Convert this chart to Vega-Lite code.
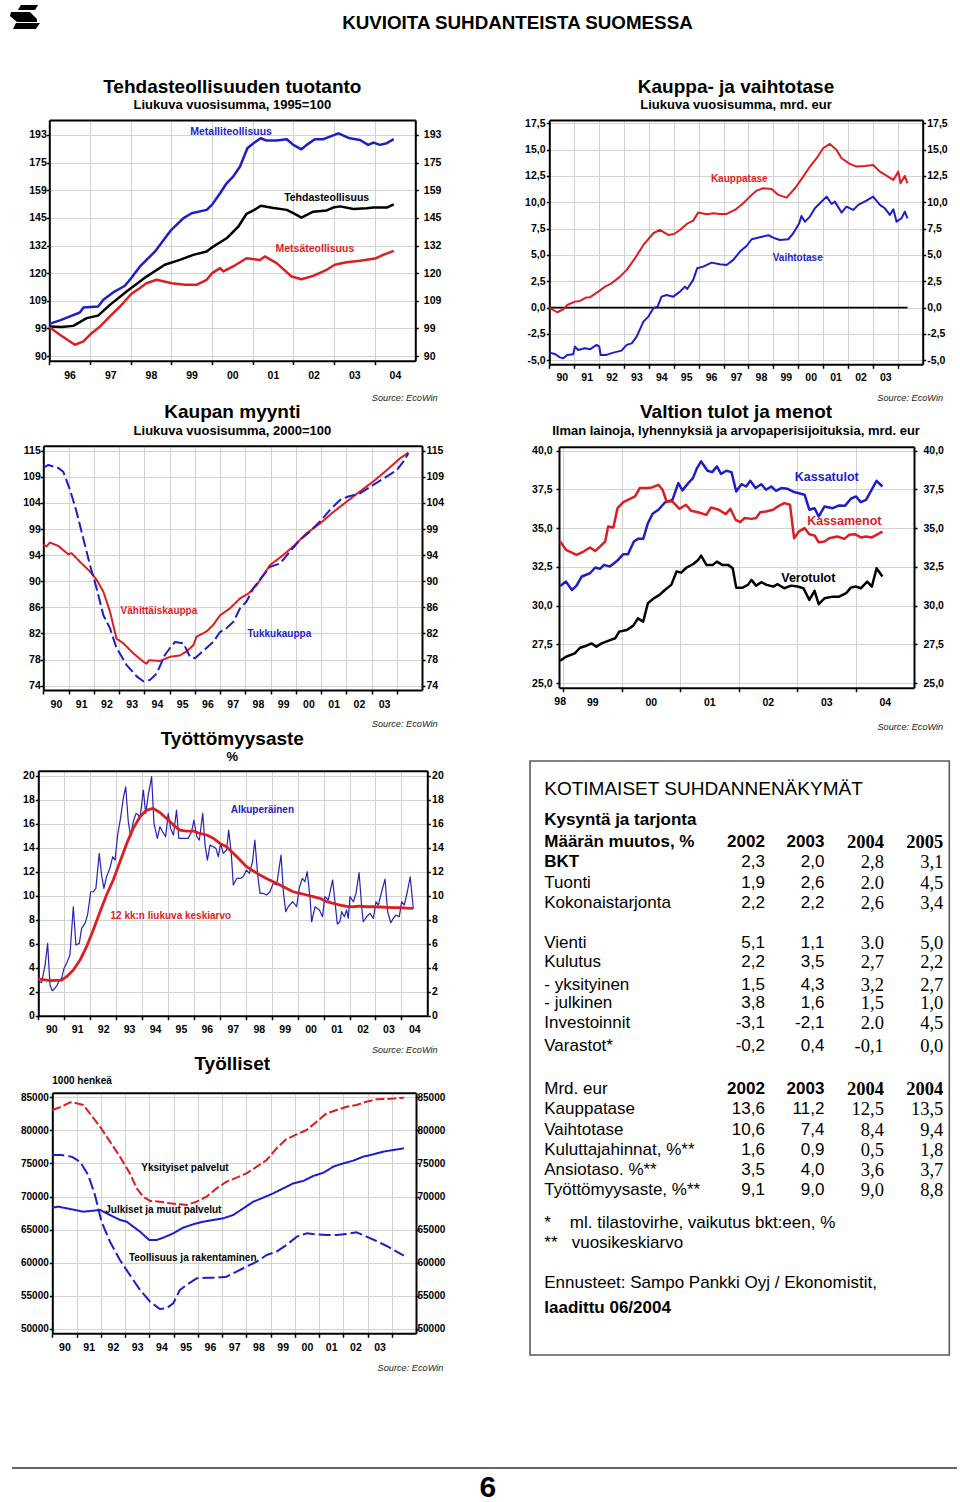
{
"$schema":"https://vega.github.io/schema/vega-lite/v6.json",
"width":960,"height":1502,"autosize":{"type":"none"},"padding":0,"background":"white",
"data":{"values":[{}]},
"config":{"view":{"stroke":null},"font":"Liberation Sans",
"axis":{"labelFont":"Liberation Sans","labelFontSize":10.5,"labelFontWeight":"bold","labelColor":"#000","domainColor":"#000","domainWidth":2,"tickColor":"#000","tickWidth":1.5,"gridColor":"#d2d2d2","gridWidth":1,"gridOpacity":1},
"text":{"font":"Liberation Sans"},"line":{"strokeJoin":"round"}},
"datasets":{
"p1":[
{"s":"metal","t":1996.0,"v":100.6},{"s":"metal","t":1996.26,"v":101.8},{"s":"metal","t":1996.51,"v":103.2},{"s":"metal","t":1996.75,"v":104.6},{"s":"metal","t":1996.84,"v":106.4},{"s":"metal","t":1997.2,"v":106.8},{"s":"metal","t":1997.33,"v":109.3},{"s":"metal","t":1997.57,"v":112.1},{"s":"metal","t":1997.86,"v":114.7},{"s":"metal","t":1998.01,"v":117.7},{"s":"metal","t":1998.23,"v":122.6},{"s":"metal","t":1998.6,"v":129.1},{"s":"metal","t":1999.0,"v":139.1},{"s":"metal","t":1999.3,"v":144.8},{"s":"metal","t":1999.5,"v":147.3},{"s":"metal","t":1999.87,"v":149.0},{"s":"metal","t":2000.0,"v":151.6},{"s":"metal","t":2000.2,"v":157.8},{"s":"metal","t":2000.36,"v":163.3},{"s":"metal","t":2000.52,"v":167.1},{"s":"metal","t":2000.69,"v":173.0},{"s":"metal","t":2000.87,"v":184.3},{"s":"metal","t":2001.02,"v":187.5},{"s":"metal","t":2001.2,"v":190.7},{"s":"metal","t":2001.34,"v":189.2},{"s":"metal","t":2001.59,"v":189.2},{"s":"metal","t":2001.84,"v":190.1},{"s":"metal","t":2002.0,"v":186.4},{"s":"metal","t":2002.2,"v":183.6},{"s":"metal","t":2002.33,"v":186.4},{"s":"metal","t":2002.53,"v":190.1},{"s":"metal","t":2002.74,"v":190.1},{"s":"metal","t":2003.11,"v":194.0},{"s":"metal","t":2003.39,"v":190.7},{"s":"metal","t":2003.64,"v":189.6},{"s":"metal","t":2003.84,"v":186.4},{"s":"metal","t":2003.97,"v":187.9},{"s":"metal","t":2004.13,"v":186.4},{"s":"metal","t":2004.3,"v":187.5},{"s":"metal","t":2004.47,"v":190.1},
{"s":"tehdas","t":1996.0,"v":99.7},{"s":"tehdas","t":1996.3,"v":99.5},{"s":"tehdas","t":1996.59,"v":99.9},{"s":"tehdas","t":1996.92,"v":102.6},{"s":"tehdas","t":1997.2,"v":103.5},{"s":"tehdas","t":1997.49,"v":107.4},{"s":"tehdas","t":1997.9,"v":112.5},{"s":"tehdas","t":1998.39,"v":118.4},{"s":"tehdas","t":1998.84,"v":123.3},{"s":"tehdas","t":1999.21,"v":125.4},{"s":"tehdas","t":1999.54,"v":127.6},{"s":"tehdas","t":1999.87,"v":129.1},{"s":"tehdas","t":2000.03,"v":131.3},{"s":"tehdas","t":2000.36,"v":135.1},{"s":"tehdas","t":2000.65,"v":140.7},{"s":"tehdas","t":2000.85,"v":147.0},{"s":"tehdas","t":2001.02,"v":148.7},{"s":"tehdas","t":2001.2,"v":151.1},{"s":"tehdas","t":2001.51,"v":150.0},{"s":"tehdas","t":2001.84,"v":149.0},{"s":"tehdas","t":2002.0,"v":147.3},{"s":"tehdas","t":2002.2,"v":145.1},{"s":"tehdas","t":2002.49,"v":148.1},{"s":"tehdas","t":2002.82,"v":148.7},{"s":"tehdas","t":2002.98,"v":150.2},{"s":"tehdas","t":2003.15,"v":150.8},{"s":"tehdas","t":2003.48,"v":149.5},{"s":"tehdas","t":2003.8,"v":149.8},{"s":"tehdas","t":2003.97,"v":150.2},{"s":"tehdas","t":2004.3,"v":150.2},{"s":"tehdas","t":2004.47,"v":151.9},
{"s":"metsa","t":1996.0,"v":99.5},{"s":"metsa","t":1996.26,"v":96.9},{"s":"metsa","t":1996.63,"v":93.6},{"s":"metsa","t":1996.84,"v":94.7},{"s":"metsa","t":1997.04,"v":97.4},{"s":"metsa","t":1997.25,"v":99.7},{"s":"metsa","t":1997.49,"v":103.2},{"s":"metsa","t":1997.74,"v":106.8},{"s":"metsa","t":1998.02,"v":111.6},{"s":"metsa","t":1998.23,"v":113.8},{"s":"metsa","t":1998.39,"v":115.7},{"s":"metsa","t":1998.64,"v":117.1},{"s":"metsa","t":1999.01,"v":115.7},{"s":"metsa","t":1999.34,"v":115.1},{"s":"metsa","t":1999.62,"v":115.1},{"s":"metsa","t":1999.87,"v":117.1},{"s":"metsa","t":2000.0,"v":119.8},{"s":"metsa","t":2000.2,"v":121.9},{"s":"metsa","t":2000.28,"v":120.5},{"s":"metsa","t":2000.52,"v":122.6},{"s":"metsa","t":2000.85,"v":126.1},{"s":"metsa","t":2001.18,"v":125.4},{"s":"metsa","t":2001.3,"v":126.9},{"s":"metsa","t":2001.59,"v":124.0},{"s":"metsa","t":2001.96,"v":118.4},{"s":"metsa","t":2002.2,"v":117.3},{"s":"metsa","t":2002.49,"v":118.7},{"s":"metsa","t":2002.82,"v":121.2},{"s":"metsa","t":2003.02,"v":123.3},{"s":"metsa","t":2003.31,"v":124.4},{"s":"metsa","t":2003.64,"v":125.0},{"s":"metsa","t":2004.01,"v":126.0},{"s":"metsa","t":2004.21,"v":127.6},{"s":"metsa","t":2004.47,"v":129.4}
],
"p2":[
{"s":"kauppa","t":1990.0,"v":0.0},{"s":"kauppa","t":1990.32,"v":-0.44},{"s":"kauppa","t":1990.56,"v":-0.16},{"s":"kauppa","t":1990.72,"v":0.25},{"s":"kauppa","t":1991.03,"v":0.57},{"s":"kauppa","t":1991.23,"v":0.63},{"s":"kauppa","t":1991.47,"v":0.95},{"s":"kauppa","t":1991.63,"v":0.98},{"s":"kauppa","t":1991.97,"v":1.52},{"s":"kauppa","t":1992.24,"v":1.99},{"s":"kauppa","t":1992.5,"v":2.31},{"s":"kauppa","t":1992.84,"v":2.94},{"s":"kauppa","t":1993.11,"v":3.58},{"s":"kauppa","t":1993.44,"v":4.68},{"s":"kauppa","t":1993.78,"v":5.95},{"s":"kauppa","t":1994.18,"v":7.06},{"s":"kauppa","t":1994.44,"v":7.37},{"s":"kauppa","t":1994.78,"v":6.9},{"s":"kauppa","t":1995.01,"v":6.99},{"s":"kauppa","t":1995.25,"v":7.37},{"s":"kauppa","t":1995.52,"v":7.94},{"s":"kauppa","t":1995.78,"v":8.26},{"s":"kauppa","t":1995.98,"v":9.02},{"s":"kauppa","t":1996.32,"v":8.86},{"s":"kauppa","t":1996.59,"v":8.96},{"s":"kauppa","t":1996.85,"v":8.89},{"s":"kauppa","t":1997.12,"v":8.89},{"s":"kauppa","t":1997.46,"v":9.27},{"s":"kauppa","t":1997.79,"v":9.91},{"s":"kauppa","t":1998.06,"v":10.54},{"s":"kauppa","t":1998.33,"v":11.11},{"s":"kauppa","t":1998.59,"v":11.33},{"s":"kauppa","t":1998.93,"v":11.27},{"s":"kauppa","t":1999.2,"v":10.7},{"s":"kauppa","t":1999.53,"v":10.44},{"s":"kauppa","t":1999.87,"v":11.33},{"s":"kauppa","t":2000.2,"v":12.44},{"s":"kauppa","t":2000.47,"v":13.39},{"s":"kauppa","t":2000.74,"v":14.18},{"s":"kauppa","t":2001.0,"v":15.13},{"s":"kauppa","t":2001.27,"v":15.54},{"s":"kauppa","t":2001.54,"v":14.97},{"s":"kauppa","t":2001.74,"v":14.18},{"s":"kauppa","t":2002.07,"v":13.64},{"s":"kauppa","t":2002.34,"v":13.39},{"s":"kauppa","t":2002.68,"v":13.45},{"s":"kauppa","t":2003.01,"v":13.54},{"s":"kauppa","t":2003.28,"v":12.91},{"s":"kauppa","t":2003.61,"v":12.44},{"s":"kauppa","t":2003.82,"v":12.12},{"s":"kauppa","t":2004.02,"v":12.91},{"s":"kauppa","t":2004.11,"v":11.8},{"s":"kauppa","t":2004.28,"v":12.5},{"s":"kauppa","t":2004.39,"v":11.8},
{"s":"vaihto","t":1990.0,"v":-4.27},{"s":"vaihto","t":1990.23,"v":-4.4},{"s":"vaihto","t":1990.43,"v":-4.72},{"s":"vaihto","t":1990.56,"v":-4.81},{"s":"vaihto","t":1990.72,"v":-4.49},{"s":"vaihto","t":1990.96,"v":-4.43},{"s":"vaihto","t":1991.03,"v":-3.7},{"s":"vaihto","t":1991.16,"v":-4.02},{"s":"vaihto","t":1991.43,"v":-3.86},{"s":"vaihto","t":1991.63,"v":-3.96},{"s":"vaihto","t":1991.9,"v":-3.54},{"s":"vaihto","t":1992.01,"v":-3.7},{"s":"vaihto","t":1992.06,"v":-4.49},{"s":"vaihto","t":1992.3,"v":-4.49},{"s":"vaihto","t":1992.57,"v":-4.27},{"s":"vaihto","t":1992.9,"v":-4.08},{"s":"vaihto","t":1993.11,"v":-3.54},{"s":"vaihto","t":1993.31,"v":-3.39},{"s":"vaihto","t":1993.51,"v":-2.75},{"s":"vaihto","t":1993.78,"v":-1.33},{"s":"vaihto","t":1993.98,"v":-0.85},{"s":"vaihto","t":1994.18,"v":-0.06},{"s":"vaihto","t":1994.35,"v":0.09},{"s":"vaihto","t":1994.51,"v":1.04},{"s":"vaihto","t":1994.71,"v":1.2},{"s":"vaihto","t":1994.98,"v":1.04},{"s":"vaihto","t":1995.25,"v":1.52},{"s":"vaihto","t":1995.45,"v":1.99},{"s":"vaihto","t":1995.54,"v":1.77},{"s":"vaihto","t":1995.78,"v":2.63},{"s":"vaihto","t":1995.94,"v":3.73},{"s":"vaihto","t":1996.18,"v":3.89},{"s":"vaihto","t":1996.52,"v":4.27},{"s":"vaihto","t":1996.85,"v":4.11},{"s":"vaihto","t":1997.12,"v":4.05},{"s":"vaihto","t":1997.39,"v":4.53},{"s":"vaihto","t":1997.66,"v":5.32},{"s":"vaihto","t":1997.92,"v":5.85},{"s":"vaihto","t":1998.13,"v":6.49},{"s":"vaihto","t":1998.46,"v":6.68},{"s":"vaihto","t":1998.8,"v":6.87},{"s":"vaihto","t":1999.06,"v":6.58},{"s":"vaihto","t":1999.26,"v":6.42},{"s":"vaihto","t":1999.6,"v":6.49},{"s":"vaihto","t":1999.8,"v":7.06},{"s":"vaihto","t":2000.04,"v":8.01},{"s":"vaihto","t":2000.13,"v":8.7},{"s":"vaihto","t":2000.27,"v":8.16},{"s":"vaihto","t":2000.47,"v":8.64},{"s":"vaihto","t":2000.67,"v":9.43},{"s":"vaihto","t":2000.87,"v":9.91},{"s":"vaihto","t":2001.14,"v":10.54},{"s":"vaihto","t":2001.34,"v":9.84},{"s":"vaihto","t":2001.47,"v":10.06},{"s":"vaihto","t":2001.74,"v":9.02},{"s":"vaihto","t":2001.94,"v":9.59},{"s":"vaihto","t":2002.21,"v":9.27},{"s":"vaihto","t":2002.41,"v":9.75},{"s":"vaihto","t":2002.74,"v":10.16},{"s":"vaihto","t":2003.01,"v":10.54},{"s":"vaihto","t":2003.28,"v":9.75},{"s":"vaihto","t":2003.48,"v":9.43},{"s":"vaihto","t":2003.68,"v":8.8},{"s":"vaihto","t":2003.82,"v":9.34},{"s":"vaihto","t":2003.95,"v":8.16},{"s":"vaihto","t":2004.15,"v":8.48},{"s":"vaihto","t":2004.28,"v":9.11},{"s":"vaihto","t":2004.39,"v":8.48}
],
"p3":[
{"s":"vahitt","t":1990.0,"v":96.3},{"s":"vahitt","t":1990.13,"v":96.0},{"s":"vahitt","t":1990.26,"v":96.7},{"s":"vahitt","t":1990.59,"v":96.1},{"s":"vahitt","t":1990.99,"v":94.6},{"s":"vahitt","t":1991.12,"v":94.8},{"s":"vahitt","t":1991.45,"v":93.3},{"s":"vahitt","t":1991.85,"v":91.6},{"s":"vahitt","t":1992.11,"v":90.2},{"s":"vahitt","t":1992.38,"v":88.2},{"s":"vahitt","t":1992.64,"v":85.0},{"s":"vahitt","t":1992.9,"v":80.8},{"s":"vahitt","t":1993.17,"v":80.1},{"s":"vahitt","t":1993.57,"v":78.6},{"s":"vahitt","t":1993.96,"v":77.4},{"s":"vahitt","t":1994.09,"v":77.1},{"s":"vahitt","t":1994.19,"v":77.6},{"s":"vahitt","t":1994.62,"v":77.5},{"s":"vahitt","t":1995.02,"v":78.1},{"s":"vahitt","t":1995.41,"v":78.3},{"s":"vahitt","t":1995.68,"v":78.9},{"s":"vahitt","t":1995.94,"v":79.8},{"s":"vahitt","t":1996.07,"v":81.1},{"s":"vahitt","t":1996.47,"v":81.9},{"s":"vahitt","t":1996.73,"v":82.9},{"s":"vahitt","t":1997.0,"v":84.4},{"s":"vahitt","t":1997.39,"v":85.5},{"s":"vahitt","t":1997.79,"v":87.1},{"s":"vahitt","t":1998.12,"v":87.9},{"s":"vahitt","t":1998.45,"v":89.3},{"s":"vahitt","t":1998.98,"v":92.7},{"s":"vahitt","t":1999.51,"v":94.5},{"s":"vahitt","t":1999.9,"v":96.0},{"s":"vahitt","t":2000.43,"v":98.4},{"s":"vahitt","t":2000.96,"v":100.2},{"s":"vahitt","t":2001.49,"v":102.4},{"s":"vahitt","t":2002.02,"v":104.4},{"s":"vahitt","t":2002.54,"v":106.4},{"s":"vahitt","t":2003.07,"v":108.4},{"s":"vahitt","t":2003.6,"v":110.7},{"s":"vahitt","t":2004.13,"v":113.2},{"s":"vahitt","t":2004.46,"v":114.4},
{"s":"tukku","t":1990.0,"v":111.2},{"s":"tukku","t":1990.2,"v":111.8},{"s":"tukku","t":1990.59,"v":111.2},{"s":"tukku","t":1990.79,"v":110.4},{"s":"tukku","t":1991.06,"v":106.7},{"s":"tukku","t":1991.32,"v":102.4},{"s":"tukku","t":1991.58,"v":97.5},{"s":"tukku","t":1991.85,"v":92.7},{"s":"tukku","t":1992.11,"v":88.8},{"s":"tukku","t":1992.38,"v":84.4},{"s":"tukku","t":1992.64,"v":82.4},{"s":"tukku","t":1992.9,"v":79.4},{"s":"tukku","t":1993.3,"v":76.9},{"s":"tukku","t":1993.7,"v":75.3},{"s":"tukku","t":1993.96,"v":74.6},{"s":"tukku","t":1994.23,"v":74.8},{"s":"tukku","t":1994.49,"v":75.7},{"s":"tukku","t":1994.82,"v":78.4},{"s":"tukku","t":1995.02,"v":79.4},{"s":"tukku","t":1995.22,"v":80.3},{"s":"tukku","t":1995.55,"v":80.1},{"s":"tukku","t":1995.81,"v":78.1},{"s":"tukku","t":1996.01,"v":77.9},{"s":"tukku","t":1996.34,"v":79.0},{"s":"tukku","t":1996.73,"v":80.3},{"s":"tukku","t":1997.0,"v":81.8},{"s":"tukku","t":1997.26,"v":82.4},{"s":"tukku","t":1997.53,"v":83.4},{"s":"tukku","t":1997.79,"v":85.5},{"s":"tukku","t":1998.05,"v":86.6},{"s":"tukku","t":1998.32,"v":88.8},{"s":"tukku","t":1998.72,"v":91.0},{"s":"tukku","t":1998.98,"v":92.4},{"s":"tukku","t":1999.38,"v":93.0},{"s":"tukku","t":1999.77,"v":95.1},{"s":"tukku","t":2000.17,"v":97.2},{"s":"tukku","t":2000.56,"v":98.7},{"s":"tukku","t":2000.96,"v":100.6},{"s":"tukku","t":2001.36,"v":102.8},{"s":"tukku","t":2001.75,"v":104.7},{"s":"tukku","t":2002.08,"v":105.4},{"s":"tukku","t":2002.54,"v":106.0},{"s":"tukku","t":2003.07,"v":107.7},{"s":"tukku","t":2003.6,"v":109.4},{"s":"tukku","t":2004.0,"v":110.7},{"s":"tukku","t":2004.26,"v":112.5},{"s":"tukku","t":2004.46,"v":114.3}
],
"p4":[
{"s":"tulot","t":1998.95,"v":31.27},{"s":"tulot","t":1999.05,"v":31.55},{"s":"tulot","t":1999.15,"v":31.01},{"s":"tulot","t":1999.23,"v":31.29},{"s":"tulot","t":1999.32,"v":31.88},{"s":"tulot","t":1999.46,"v":32.09},{"s":"tulot","t":1999.55,"v":32.46},{"s":"tulot","t":1999.63,"v":32.37},{"s":"tulot","t":1999.7,"v":32.63},{"s":"tulot","t":1999.8,"v":32.52},{"s":"tulot","t":1999.94,"v":32.95},{"s":"tulot","t":2000.03,"v":33.32},{"s":"tulot","t":2000.11,"v":33.32},{"s":"tulot","t":2000.21,"v":34.14},{"s":"tulot","t":2000.28,"v":34.31},{"s":"tulot","t":2000.37,"v":34.31},{"s":"tulot","t":2000.45,"v":35.32},{"s":"tulot","t":2000.53,"v":35.93},{"s":"tulot","t":2000.63,"v":36.19},{"s":"tulot","t":2000.74,"v":36.66},{"s":"tulot","t":2000.87,"v":36.83},{"s":"tulot","t":2000.97,"v":37.91},{"s":"tulot","t":2001.04,"v":37.44},{"s":"tulot","t":2001.14,"v":37.91},{"s":"tulot","t":2001.22,"v":38.23},{"s":"tulot","t":2001.29,"v":38.88},{"s":"tulot","t":2001.36,"v":39.31},{"s":"tulot","t":2001.47,"v":38.71},{"s":"tulot","t":2001.55,"v":38.62},{"s":"tulot","t":2001.63,"v":38.99},{"s":"tulot","t":2001.7,"v":38.51},{"s":"tulot","t":2001.79,"v":38.71},{"s":"tulot","t":2001.88,"v":38.62},{"s":"tulot","t":2001.96,"v":37.37},{"s":"tulot","t":2002.05,"v":37.84},{"s":"tulot","t":2002.13,"v":37.69},{"s":"tulot","t":2002.2,"v":38.06},{"s":"tulot","t":2002.29,"v":37.59},{"s":"tulot","t":2002.39,"v":37.84},{"s":"tulot","t":2002.47,"v":37.48},{"s":"tulot","t":2002.56,"v":37.69},{"s":"tulot","t":2002.64,"v":37.41},{"s":"tulot","t":2002.73,"v":37.59},{"s":"tulot","t":2002.84,"v":37.54},{"s":"tulot","t":2002.95,"v":37.33},{"s":"tulot","t":2003.13,"v":37.16},{"s":"tulot","t":2003.21,"v":36.19},{"s":"tulot","t":2003.3,"v":36.29},{"s":"tulot","t":2003.37,"v":35.75},{"s":"tulot","t":2003.47,"v":36.4},{"s":"tulot","t":2003.61,"v":36.29},{"s":"tulot","t":2003.72,"v":36.47},{"s":"tulot","t":2003.82,"v":36.44},{"s":"tulot","t":2003.92,"v":36.9},{"s":"tulot","t":2004.01,"v":37.05},{"s":"tulot","t":2004.09,"v":36.68},{"s":"tulot","t":2004.18,"v":36.83},{"s":"tulot","t":2004.26,"v":37.37},{"s":"tulot","t":2004.36,"v":38.06},{"s":"tulot","t":2004.46,"v":37.69},
{"s":"menot","t":1998.95,"v":34.14},{"s":"menot","t":1999.05,"v":33.6},{"s":"menot","t":1999.23,"v":33.28},{"s":"menot","t":1999.35,"v":33.49},{"s":"menot","t":1999.46,"v":33.75},{"s":"menot","t":1999.55,"v":33.53},{"s":"menot","t":1999.63,"v":33.81},{"s":"menot","t":1999.72,"v":34.14},{"s":"menot","t":1999.77,"v":35.11},{"s":"menot","t":1999.86,"v":35.04},{"s":"menot","t":1999.93,"v":36.29},{"s":"menot","t":2000.03,"v":36.68},{"s":"menot","t":2000.11,"v":36.83},{"s":"menot","t":2000.23,"v":37.05},{"s":"menot","t":2000.31,"v":37.59},{"s":"menot","t":2000.43,"v":37.59},{"s":"menot","t":2000.52,"v":37.63},{"s":"menot","t":2000.63,"v":37.8},{"s":"menot","t":2000.7,"v":37.48},{"s":"menot","t":2000.77,"v":36.72},{"s":"menot","t":2000.87,"v":36.72},{"s":"menot","t":2000.99,"v":36.25},{"s":"menot","t":2001.1,"v":36.51},{"s":"menot","t":2001.19,"v":36.12},{"s":"menot","t":2001.31,"v":36.03},{"s":"menot","t":2001.45,"v":35.86},{"s":"menot","t":2001.53,"v":36.34},{"s":"menot","t":2001.66,"v":36.19},{"s":"menot","t":2001.78,"v":35.91},{"s":"menot","t":2001.86,"v":36.25},{"s":"menot","t":2001.95,"v":35.54},{"s":"menot","t":2002.03,"v":35.39},{"s":"menot","t":2002.1,"v":35.65},{"s":"menot","t":2002.22,"v":35.6},{"s":"menot","t":2002.3,"v":35.65},{"s":"menot","t":2002.37,"v":36.03},{"s":"menot","t":2002.47,"v":36.08},{"s":"menot","t":2002.59,"v":36.19},{"s":"menot","t":2002.67,"v":36.4},{"s":"menot","t":2002.78,"v":36.62},{"s":"menot","t":2002.88,"v":36.51},{"s":"menot","t":2002.95,"v":34.35},{"s":"menot","t":2003.03,"v":34.78},{"s":"menot","t":2003.13,"v":35.0},{"s":"menot","t":2003.21,"v":34.61},{"s":"menot","t":2003.3,"v":34.53},{"s":"menot","t":2003.37,"v":34.09},{"s":"menot","t":2003.47,"v":34.14},{"s":"menot","t":2003.55,"v":34.35},{"s":"menot","t":2003.69,"v":34.46},{"s":"menot","t":2003.81,"v":34.31},{"s":"menot","t":2003.89,"v":34.57},{"s":"menot","t":2003.99,"v":34.61},{"s":"menot","t":2004.09,"v":34.4},{"s":"menot","t":2004.18,"v":34.46},{"s":"menot","t":2004.28,"v":34.4},{"s":"menot","t":2004.46,"v":34.78},
{"s":"vero","t":1998.95,"v":26.44},{"s":"vero","t":1999.05,"v":26.7},{"s":"vero","t":1999.2,"v":26.92},{"s":"vero","t":1999.29,"v":27.28},{"s":"vero","t":1999.4,"v":27.41},{"s":"vero","t":1999.49,"v":27.56},{"s":"vero","t":1999.57,"v":27.35},{"s":"vero","t":1999.66,"v":27.56},{"s":"vero","t":1999.77,"v":27.72},{"s":"vero","t":1999.89,"v":27.89},{"s":"vero","t":1999.96,"v":28.32},{"s":"vero","t":2000.09,"v":28.43},{"s":"vero","t":2000.2,"v":28.71},{"s":"vero","t":2000.28,"v":29.18},{"s":"vero","t":2000.37,"v":28.97},{"s":"vero","t":2000.45,"v":30.15},{"s":"vero","t":2000.55,"v":30.47},{"s":"vero","t":2000.65,"v":30.69},{"s":"vero","t":2000.74,"v":31.01},{"s":"vero","t":2000.85,"v":31.34},{"s":"vero","t":2000.94,"v":32.2},{"s":"vero","t":2001.02,"v":32.13},{"s":"vero","t":2001.11,"v":32.46},{"s":"vero","t":2001.22,"v":32.67},{"s":"vero","t":2001.31,"v":32.95},{"s":"vero","t":2001.36,"v":33.23},{"s":"vero","t":2001.45,"v":32.63},{"s":"vero","t":2001.56,"v":32.63},{"s":"vero","t":2001.63,"v":32.84},{"s":"vero","t":2001.72,"v":32.63},{"s":"vero","t":2001.82,"v":32.63},{"s":"vero","t":2001.9,"v":32.41},{"s":"vero","t":2001.96,"v":31.16},{"s":"vero","t":2002.07,"v":31.16},{"s":"vero","t":2002.16,"v":31.34},{"s":"vero","t":2002.22,"v":31.66},{"s":"vero","t":2002.3,"v":31.29},{"s":"vero","t":2002.39,"v":31.51},{"s":"vero","t":2002.48,"v":31.34},{"s":"vero","t":2002.59,"v":31.23},{"s":"vero","t":2002.67,"v":31.38},{"s":"vero","t":2002.78,"v":31.12},{"s":"vero","t":2002.9,"v":31.29},{"s":"vero","t":2003.01,"v":31.23},{"s":"vero","t":2003.11,"v":31.12},{"s":"vero","t":2003.21,"v":30.37},{"s":"vero","t":2003.3,"v":30.95},{"s":"vero","t":2003.37,"v":30.09},{"s":"vero","t":2003.47,"v":30.47},{"s":"vero","t":2003.61,"v":30.58},{"s":"vero","t":2003.72,"v":30.58},{"s":"vero","t":2003.84,"v":30.8},{"s":"vero","t":2003.92,"v":31.16},{"s":"vero","t":2004.01,"v":31.23},{"s":"vero","t":2004.09,"v":31.12},{"s":"vero","t":2004.2,"v":31.55},{"s":"vero","t":2004.28,"v":31.23},{"s":"vero","t":2004.36,"v":32.41},{"s":"vero","t":2004.46,"v":31.88}
],
"p5a":[
{"t":1990.0,"v":3.06},{"t":1990.06,"v":2.83},{"t":1990.13,"v":2.75},{"t":1990.26,"v":4.22},{"t":1990.36,"v":6.03},{"t":1990.45,"v":2.56},{"t":1990.54,"v":2.08},{"t":1990.64,"v":2.28},{"t":1990.73,"v":2.56},{"t":1990.81,"v":2.97},{"t":1990.9,"v":3.11},{"t":1990.99,"v":3.94},{"t":1991.09,"v":4.36},{"t":1991.22,"v":5.06},{"t":1991.35,"v":9.08},{"t":1991.45,"v":5.89},{"t":1991.58,"v":6.03},{"t":1991.67,"v":7.28},{"t":1991.8,"v":7.69},{"t":1991.9,"v":8.39},{"t":1992.02,"v":10.33},{"t":1992.12,"v":10.33},{"t":1992.22,"v":10.61},{"t":1992.35,"v":13.53},{"t":1992.44,"v":11.72},{"t":1992.53,"v":10.61},{"t":1992.63,"v":11.58},{"t":1992.76,"v":12.28},{"t":1992.87,"v":13.25},{"t":1992.96,"v":12.97},{"t":1993.06,"v":15.06},{"t":1993.17,"v":16.44},{"t":1993.28,"v":18.17},{"t":1993.37,"v":19.08},{"t":1993.47,"v":16.17},{"t":1993.56,"v":14.92},{"t":1993.66,"v":16.17},{"t":1993.77,"v":16.86},{"t":1993.86,"v":16.72},{"t":1993.92,"v":16.44},{"t":1994.05,"v":18.81},{"t":1994.14,"v":16.86},{"t":1994.24,"v":18.39},{"t":1994.37,"v":19.92},{"t":1994.46,"v":16.03},{"t":1994.59,"v":14.78},{"t":1994.69,"v":15.75},{"t":1994.79,"v":15.33},{"t":1994.91,"v":14.92},{"t":1995.01,"v":16.86},{"t":1995.1,"v":15.61},{"t":1995.21,"v":15.06},{"t":1995.33,"v":17.14},{"t":1995.42,"v":14.78},{"t":1995.59,"v":14.78},{"t":1995.78,"v":14.78},{"t":1995.91,"v":15.33},{"t":1996.0,"v":16.31},{"t":1996.11,"v":14.92},{"t":1996.21,"v":14.64},{"t":1996.34,"v":16.86},{"t":1996.43,"v":14.22},{"t":1996.52,"v":12.97},{"t":1996.62,"v":14.22},{"t":1996.75,"v":14.08},{"t":1996.85,"v":13.94},{"t":1996.94,"v":13.25},{"t":1997.03,"v":14.36},{"t":1997.13,"v":13.53},{"t":1997.26,"v":13.81},{"t":1997.34,"v":15.47},{"t":1997.44,"v":13.53},{"t":1997.52,"v":10.89},{"t":1997.65,"v":11.44},{"t":1997.78,"v":11.44},{"t":1997.9,"v":11.58},{"t":1998.03,"v":12.14},{"t":1998.14,"v":11.86},{"t":1998.26,"v":12.83},{"t":1998.35,"v":14.64},{"t":1998.46,"v":11.72},{"t":1998.55,"v":10.19},{"t":1998.68,"v":10.19},{"t":1998.8,"v":10.06},{"t":1998.93,"v":10.33},{"t":1999.06,"v":11.03},{"t":1999.19,"v":10.89},{"t":1999.36,"v":13.39},{"t":1999.45,"v":10.33},{"t":1999.54,"v":8.67},{"t":1999.64,"v":9.08},{"t":1999.81,"v":9.5},{"t":1999.96,"v":9.08},{"t":2000.06,"v":10.61},{"t":2000.18,"v":11.44},{"t":2000.28,"v":11.17},{"t":2000.37,"v":12.0},{"t":2000.48,"v":9.78},{"t":2000.54,"v":7.83},{"t":2000.67,"v":9.08},{"t":2000.84,"v":8.81},{"t":2000.96,"v":8.25},{"t":2001.05,"v":9.92},{"t":2001.18,"v":9.64},{"t":2001.25,"v":10.33},{"t":2001.35,"v":11.31},{"t":2001.44,"v":9.5},{"t":2001.53,"v":7.64},{"t":2001.63,"v":7.83},{"t":2001.7,"v":8.67},{"t":2001.8,"v":8.25},{"t":2001.89,"v":8.81},{"t":2001.95,"v":8.11},{"t":2002.02,"v":9.92},{"t":2002.15,"v":9.5},{"t":2002.25,"v":10.19},{"t":2002.37,"v":11.92},{"t":2002.47,"v":9.08},{"t":2002.53,"v":7.83},{"t":2002.66,"v":8.25},{"t":2002.79,"v":8.53},{"t":2002.92,"v":8.11},{"t":2003.02,"v":9.5},{"t":2003.11,"v":9.22},{"t":2003.24,"v":10.33},{"t":2003.37,"v":11.39},{"t":2003.47,"v":8.67},{"t":2003.59,"v":7.75},{"t":2003.69,"v":8.11},{"t":2003.79,"v":8.39},{"t":2003.92,"v":8.25},{"t":2004.01,"v":9.5},{"t":2004.11,"v":9.22},{"t":2004.23,"v":10.33},{"t":2004.34,"v":11.58},{"t":2004.46,"v":8.94}
],
"p5b":[
{"t":1990.0,"v":3.06},{"t":1990.45,"v":2.92},{"t":1990.9,"v":2.97},{"t":1991.09,"v":3.25},{"t":1991.35,"v":3.81},{"t":1991.61,"v":4.64},{"t":1991.86,"v":5.75},{"t":1992.12,"v":7.14},{"t":1992.38,"v":8.67},{"t":1992.63,"v":10.06},{"t":1992.89,"v":11.31},{"t":1993.15,"v":12.83},{"t":1993.41,"v":14.36},{"t":1993.66,"v":15.61},{"t":1993.92,"v":16.58},{"t":1994.18,"v":17.14},{"t":1994.43,"v":17.28},{"t":1994.69,"v":16.94},{"t":1994.95,"v":16.44},{"t":1995.21,"v":15.89},{"t":1995.46,"v":15.47},{"t":1995.72,"v":15.39},{"t":1995.98,"v":15.39},{"t":1996.23,"v":15.19},{"t":1996.49,"v":15.06},{"t":1996.75,"v":14.78},{"t":1997.01,"v":14.36},{"t":1997.26,"v":14.08},{"t":1997.52,"v":13.53},{"t":1997.78,"v":12.97},{"t":1998.03,"v":12.42},{"t":1998.29,"v":12.06},{"t":1998.55,"v":11.72},{"t":1998.8,"v":11.44},{"t":1999.06,"v":11.17},{"t":1999.32,"v":10.89},{"t":1999.58,"v":10.61},{"t":1999.83,"v":10.33},{"t":2000.09,"v":10.19},{"t":2000.35,"v":10.06},{"t":2000.6,"v":9.92},{"t":2000.86,"v":9.78},{"t":2001.12,"v":9.5},{"t":2001.38,"v":9.36},{"t":2001.63,"v":9.22},{"t":2001.89,"v":9.11},{"t":2002.15,"v":9.08},{"t":2002.4,"v":9.14},{"t":2002.66,"v":9.08},{"t":2002.92,"v":9.08},{"t":2003.17,"v":9.06},{"t":2003.43,"v":9.03},{"t":2003.69,"v":9.0},{"t":2003.95,"v":9.0},{"t":2004.2,"v":8.97},{"t":2004.46,"v":8.94}
],
"p6":[
{"s":"yks","t":1990.0,"v":83080},{"s":"yks","t":1990.38,"v":83580},{"s":"yks","t":1990.73,"v":84240},{"s":"yks","t":1991.0,"v":84090},{"s":"yks","t":1991.28,"v":83840},{"s":"yks","t":1991.55,"v":82580},{"s":"yks","t":1991.97,"v":80560},{"s":"yks","t":1992.38,"v":78300},{"s":"yks","t":1992.79,"v":76030},{"s":"yks","t":1993.2,"v":73510},{"s":"yks","t":1993.48,"v":71250},{"s":"yks","t":1993.75,"v":69990},{"s":"yks","t":1994.03,"v":69340},{"s":"yks","t":1994.44,"v":69240},{"s":"yks","t":1994.85,"v":68980},{"s":"yks","t":1995.26,"v":68830},{"s":"yks","t":1995.54,"v":68730},{"s":"yks","t":1995.95,"v":69240},{"s":"yks","t":1996.36,"v":69990},{"s":"yks","t":1996.78,"v":71250},{"s":"yks","t":1997.19,"v":72260},{"s":"yks","t":1997.6,"v":72860},{"s":"yks","t":1998.01,"v":73510},{"s":"yks","t":1998.43,"v":74520},{"s":"yks","t":1998.84,"v":75530},{"s":"yks","t":1999.25,"v":77290},{"s":"yks","t":1999.66,"v":78700},{"s":"yks","t":2000.08,"v":79400},{"s":"yks","t":2000.49,"v":80060},{"s":"yks","t":2000.9,"v":81320},{"s":"yks","t":2001.31,"v":82580},{"s":"yks","t":2001.73,"v":83080},{"s":"yks","t":2002.14,"v":83580},{"s":"yks","t":2002.55,"v":83840},{"s":"yks","t":2002.96,"v":84340},{"s":"yks","t":2003.37,"v":84690},{"s":"yks","t":2003.79,"v":84740},{"s":"yks","t":2004.2,"v":84840},{"s":"yks","t":2004.5,"v":84940},
{"s":"julk","t":1990.0,"v":68330},{"s":"julk","t":1990.25,"v":68480},{"s":"julk","t":1990.59,"v":68230},{"s":"julk","t":1991.0,"v":67930},{"s":"julk","t":1991.28,"v":67720},{"s":"julk","t":1991.69,"v":67870},{"s":"julk","t":1991.97,"v":67980},{"s":"julk","t":1992.38,"v":67220},{"s":"julk","t":1992.79,"v":66470},{"s":"julk","t":1993.07,"v":66210},{"s":"julk","t":1993.34,"v":65460},{"s":"julk","t":1993.62,"v":64700},{"s":"julk","t":1994.0,"v":63440},{"s":"julk","t":1994.3,"v":63440},{"s":"julk","t":1994.58,"v":63800},{"s":"julk","t":1994.99,"v":64450},{"s":"julk","t":1995.4,"v":65310},{"s":"julk","t":1995.81,"v":65810},{"s":"julk","t":1996.23,"v":66210},{"s":"julk","t":1996.64,"v":66470},{"s":"julk","t":1997.05,"v":66720},{"s":"julk","t":1997.46,"v":67220},{"s":"julk","t":1997.88,"v":68230},{"s":"julk","t":1998.29,"v":69230},{"s":"julk","t":1998.7,"v":69840},{"s":"julk","t":1999.11,"v":70490},{"s":"julk","t":1999.53,"v":71250},{"s":"julk","t":1999.94,"v":72000},{"s":"julk","t":2000.35,"v":72360},{"s":"julk","t":2000.76,"v":73110},{"s":"julk","t":2001.18,"v":73610},{"s":"julk","t":2001.59,"v":74520},{"s":"julk","t":2002.0,"v":75020},{"s":"julk","t":2002.41,"v":75430},{"s":"julk","t":2002.82,"v":76030},{"s":"julk","t":2003.24,"v":76380},{"s":"julk","t":2003.65,"v":76790},{"s":"julk","t":2004.06,"v":77040},{"s":"julk","t":2004.5,"v":77290},
{"s":"teoll","t":1990.0,"v":76280},{"s":"teoll","t":1990.38,"v":76280},{"s":"teoll","t":1990.8,"v":76030},{"s":"teoll","t":1991.14,"v":75280},{"s":"teoll","t":1991.48,"v":73260},{"s":"teoll","t":1991.76,"v":70240},{"s":"teoll","t":1992.03,"v":66210},{"s":"teoll","t":1992.38,"v":63190},{"s":"teoll","t":1992.79,"v":60420},{"s":"teoll","t":1993.2,"v":58160},{"s":"teoll","t":1993.62,"v":55890},{"s":"teoll","t":1994.03,"v":54130},{"s":"teoll","t":1994.44,"v":53020},{"s":"teoll","t":1994.71,"v":53120},{"s":"teoll","t":1994.99,"v":53880},{"s":"teoll","t":1995.26,"v":55890},{"s":"teoll","t":1995.54,"v":56650},{"s":"teoll","t":1995.95,"v":57650},{"s":"teoll","t":1996.36,"v":57750},{"s":"teoll","t":1996.78,"v":57750},{"s":"teoll","t":1997.19,"v":57910},{"s":"teoll","t":1997.6,"v":58660},{"s":"teoll","t":1998.01,"v":59420},{"s":"teoll","t":1998.43,"v":60170},{"s":"teoll","t":1998.84,"v":61180},{"s":"teoll","t":1999.25,"v":61680},{"s":"teoll","t":1999.66,"v":62690},{"s":"teoll","t":2000.08,"v":63950},{"s":"teoll","t":2000.49,"v":64450},{"s":"teoll","t":2000.9,"v":64300},{"s":"teoll","t":2001.31,"v":64200},{"s":"teoll","t":2001.73,"v":64200},{"s":"teoll","t":2002.14,"v":64350},{"s":"teoll","t":2002.55,"v":64600},{"s":"teoll","t":2002.96,"v":63950},{"s":"teoll","t":2003.37,"v":63290},{"s":"teoll","t":2003.79,"v":62540},{"s":"teoll","t":2004.2,"v":61680},{"s":"teoll","t":2004.5,"v":61080}
],
"tbl":[
{"line":0,"c":0,"text":"KOTIMAISET SUHDANNENÄKYMÄT","role":"title"},
{"line":1.53,"c":0,"text":"Kysyntä ja tarjonta","role":"head"},
{"line":2.65,"c":0,"text":"Määrän muutos, %","role":"head"},
{"line":2.65,"c":1,"text":"2002","role":"year"},{"line":2.65,"c":2,"text":"2003","role":"year"},{"line":2.65,"c":3,"text":"2004","role":"year"},{"line":2.65,"c":4,"text":"2005","role":"year"},
{"line":3.65,"c":0,"text":"BKT","role":"head"},
{"line":3.65,"c":1,"text":"2,3","role":"value"},{"line":3.65,"c":2,"text":"2,0","role":"value"},{"line":3.65,"c":3,"text":"2,8","role":"value"},{"line":3.65,"c":4,"text":"3,1","role":"value"},
{"line":4.67,"c":0,"text":"Tuonti","role":"label"},
{"line":4.67,"c":1,"text":"1,9","role":"value"},{"line":4.67,"c":2,"text":"2,6","role":"value"},{"line":4.67,"c":3,"text":"2.0","role":"value"},{"line":4.67,"c":4,"text":"4,5","role":"value"},
{"line":5.67,"c":0,"text":"Kokonaistarjonta","role":"label"},
{"line":5.67,"c":1,"text":"2,2","role":"value"},{"line":5.67,"c":2,"text":"2,2","role":"value"},{"line":5.67,"c":3,"text":"2,6","role":"value"},{"line":5.67,"c":4,"text":"3,4","role":"value"},
{"line":7.7,"c":0,"text":"Vienti","role":"label"},
{"line":7.7,"c":1,"text":"5,1","role":"value"},{"line":7.7,"c":2,"text":"1,1","role":"value"},{"line":7.7,"c":3,"text":"3.0","role":"value"},{"line":7.7,"c":4,"text":"5,0","role":"value"},
{"line":8.65,"c":0,"text":"Kulutus","role":"label"},
{"line":8.65,"c":1,"text":"2,2","role":"value"},{"line":8.65,"c":2,"text":"3,5","role":"value"},{"line":8.65,"c":3,"text":"2,7","role":"value"},{"line":8.65,"c":4,"text":"2,2","role":"value"},
{"line":9.79,"c":0,"text":"- yksityinen","role":"label"},
{"line":9.79,"c":1,"text":"1,5","role":"value"},{"line":9.79,"c":2,"text":"4,3","role":"value"},{"line":9.79,"c":3,"text":"3,2","role":"value"},{"line":9.79,"c":4,"text":"2,7","role":"value"},
{"line":10.7,"c":0,"text":"- julkinen","role":"label"},
{"line":10.7,"c":1,"text":"3,8","role":"value"},{"line":10.7,"c":2,"text":"1,6","role":"value"},{"line":10.7,"c":3,"text":"1,5","role":"value"},{"line":10.7,"c":4,"text":"1,0","role":"value"},
{"line":11.7,"c":0,"text":"Investoinnit","role":"label"},
{"line":11.7,"c":1,"text":"-3,1","role":"value"},{"line":11.7,"c":2,"text":"-2,1","role":"value"},{"line":11.7,"c":3,"text":"2.0","role":"value"},{"line":11.7,"c":4,"text":"4,5","role":"value"},
{"line":12.82,"c":0,"text":"Varastot*","role":"label"},
{"line":12.82,"c":1,"text":"-0,2","role":"value"},{"line":12.82,"c":2,"text":"0,4","role":"value"},{"line":12.82,"c":3,"text":"-0,1","role":"value"},{"line":12.82,"c":4,"text":"0,0","role":"value"},
{"line":15.0,"c":0,"text":"Mrd. eur","role":"label"},
{"line":15.0,"c":1,"text":"2002","role":"year"},{"line":15.0,"c":2,"text":"2003","role":"year"},{"line":15.0,"c":3,"text":"2004","role":"year"},{"line":15.0,"c":4,"text":"2004","role":"year"},
{"line":16.0,"c":0,"text":"Kauppatase","role":"label"},
{"line":16.0,"c":1,"text":"13,6","role":"value"},{"line":16.0,"c":2,"text":"11,2","role":"value"},{"line":16.0,"c":3,"text":"12,5","role":"value"},{"line":16.0,"c":4,"text":"13,5","role":"value"},
{"line":17.04,"c":0,"text":"Vaihtotase","role":"label"},
{"line":17.04,"c":1,"text":"10,6","role":"value"},{"line":17.04,"c":2,"text":"7,4","role":"value"},{"line":17.04,"c":3,"text":"8,4","role":"value"},{"line":17.04,"c":4,"text":"9,4","role":"value"},
{"line":18.04,"c":0,"text":"Kuluttajahinnat, %**","role":"label"},
{"line":18.04,"c":1,"text":"1,6","role":"value"},{"line":18.04,"c":2,"text":"0,9","role":"value"},{"line":18.04,"c":3,"text":"0,5","role":"value"},{"line":18.04,"c":4,"text":"1,8","role":"value"},
{"line":19.04,"c":0,"text":"Ansiotaso. %**","role":"label"},
{"line":19.04,"c":1,"text":"3,5","role":"value"},{"line":19.04,"c":2,"text":"4,0","role":"value"},{"line":19.04,"c":3,"text":"3,6","role":"value"},{"line":19.04,"c":4,"text":"3,7","role":"value"},
{"line":20.04,"c":0,"text":"Työttömyysaste, %**","role":"label"},
{"line":20.04,"c":1,"text":"9,1","role":"value"},{"line":20.04,"c":2,"text":"9,0","role":"value"},{"line":20.04,"c":3,"text":"9,0","role":"value"},{"line":20.04,"c":4,"text":"8,8","role":"value"},
{"line":21.67,"c":0,"text":"*\u00a0\u00a0\u00a0\u00a0ml. tilastovirhe, vaikutus bkt:een, %","role":"label"},
{"line":22.7,"c":0,"text":"**\u00a0\u00a0\u00a0vuosikeskiarvo","role":"label"},
{"line":24.7,"c":0,"text":"Ennusteet: Sampo Pankki Oyj / Ekonomistit,","role":"label"},
{"line":25.92,"c":0,"text":"laadittu 06/2004","role":"head"}
]
},
"resolve":{"scale":{"x":"independent","y":"independent","color":"independent","strokeDash":"independent"}},
"layer":[
{"layer":[
 {"mark":{"type":"text","text":"KUVIOITA SUHDANTEISTA SUOMESSA","fontSize":18.8,"fontWeight":"bold","align":"center","baseline":"middle"},
  "encoding":{"x":{"datum":0.539,"type":"quantitative","scale":{"domain":[0,1],"range":[0,960],"nice":false,"zero":false},"axis":null},"y":{"datum":0.0152,"type":"quantitative","scale":{"domain":[0,1],"range":[0,1502],"nice":false,"zero":false},"axis":null}}},
 {"mark":{"type":"point","shape":"M -0.27 -0.8 L 0.87 -0.8 L 0.67 -0.47 L -0.47 -0.47 Z M -0.93 -0.33 L 0.33 -0.33 L 0.8 0.13 L 0.8 0.33 L -0.53 0.33 L -1 -0.07 Z M -0.6 0.4 L 1 0.4 L 0.73 0.8 L -0.8 0.8 Z","filled":true,"color":"#000","size":900,"opacity":1},
  "encoding":{"x":{"datum":0.026,"type":"quantitative","axis":null},"y":{"datum":0.01132,"type":"quantitative","axis":null}}},
 {"mark":{"type":"rule","color":"#333","strokeWidth":1.5},"encoding":{"x":{"datum":0.0125,"type":"quantitative","axis":null},"x2":{"datum":0.9969},"y":{"datum":0.9774,"type":"quantitative","axis":null}}},
 {"mark":{"type":"text","text":"6","font":"Liberation Sans Narrow, Liberation Sans","fontSize":30,"fontWeight":"bold","align":"center","baseline":"middle"},"encoding":{"x":{"datum":0.5083,"type":"quantitative","axis":null},"y":{"datum":0.9907,"type":"quantitative","axis":null}}}
]},
{"resolve":{"axis":{"x":"independent","y":"independent"}},
 "layer":[
 {"data":{"name":"p1"},"mark":{"type":"line","strokeWidth":2.5},
  "encoding":{
   "x":{"field":"t","type":"quantitative","scale":{"domain":[1996,2005],"range":[49.3,415.3],"nice":false,"zero":false},"axis":{"orient":"bottom","offset":-1141.3,"values":[1996,1997,1998,1999,2000,2001,2002,2003,2004],"grid":false,"tickSize":4,"labelPadding":6,"labelOffset":20.3,"labelExpr":"substring(''+datum.value,2)","labelFlush":false,"labelOverlap":false,"title":null}},
   "y":{"field":"v","type":"quantitative","scale":{"type":"log","domain":[88.6,203.1],"range":[360.7,120],"nice":false},"axis":{"orient":"left","offset":-49.3,"values":[90,99,108.9,119.79,131.769,144.946,159.44,175.385,192.923],"format":".0f","grid":true,"tickSize":3,"labelPadding":0,"labelOverlap":false,"title":null}},
   "color":{"field":"s","type":"nominal","scale":{"domain":["metal","tehdas","metsa"],"range":["#1e1ec8","#000000","#dc1e23"]},"legend":null}}},
 {"mark":{"type":"text","text":"Tehdasteollisuuden tuotanto","fontSize":19,"fontWeight":"bold","align":"center","baseline":"middle"},
  "encoding":{
   "x":{"datum":2000.5,"type":"quantitative","scale":{"domain":[1996,2005],"range":[49.3,415.3],"nice":false,"zero":false},"axis":{"orient":"top","offset":-120,"values":[1996,1997,1998,1999,2000,2001,2002,2003,2004],"grid":true,"ticks":false,"labels":false,"title":null}},
   "y":{"datum":227.8,"type":"quantitative","scale":{"type":"log","domain":[88.6,203.1],"range":[360.7,120],"nice":false},"axis":{"orient":"right","offset":-544.7,"values":[90,99,108.9,119.79,131.769,144.946,159.44,175.385,192.923],"format":".0f","grid":false,"tickSize":3,"labelPadding":5,"labelOverlap":false,"title":null}}}},
 {"mark":{"type":"text","text":"Liukuva vuosisumma, 1995=100","fontSize":13,"fontWeight":"bold","align":"center","baseline":"middle"},
  "encoding":{"x":{"datum":2000.5,"type":"quantitative","axis":null},"y":{"datum":213.9,"type":"quantitative","axis":null}}},
 {"mark":{"type":"text","text":"Source: EcoWin","fontSize":9.2,"fontStyle":"italic","align":"right","baseline":"middle","color":"#222"},
  "encoding":{"x":{"datum":2005.55,"type":"quantitative","axis":null},"y":{"datum":77.9,"type":"quantitative","axis":null}}},
 {"mark":{"type":"text","text":"Metalliteollisuus","fontSize":10.5,"fontWeight":"bold","align":"center","baseline":"middle","color":"#1e1ec8"},
  "encoding":{"x":{"datum":2000.47,"type":"quantitative","axis":null},"y":{"datum":195.1,"type":"quantitative","axis":null}}},
 {"mark":{"type":"text","text":"Tehdasteollisuus","fontSize":10.5,"fontWeight":"bold","align":"center","baseline":"middle","color":"#000"},
  "encoding":{"x":{"datum":2002.82,"type":"quantitative","axis":null},"y":{"datum":155.4,"type":"quantitative","axis":null}}},
 {"mark":{"type":"text","text":"Metsäteollisuus","fontSize":10.5,"fontWeight":"bold","align":"center","baseline":"middle","color":"#dc1e23"},
  "encoding":{"x":{"datum":2002.53,"type":"quantitative","axis":null},"y":{"datum":130.2,"type":"quantitative","axis":null}}}
]},
{"resolve":{"axis":{"x":"independent","y":"independent"}},
 "layer":[
 {"mark":{"type":"rule","color":"#000","strokeWidth":1.8},
  "encoding":{"x":{"datum":1990,"type":"quantitative","scale":{"domain":[1990,2005],"range":[549.3,922.7],"nice":false,"zero":false},"axis":null},"x2":{"datum":2004.39},"y":{"datum":0,"type":"quantitative","scale":{"domain":[-5.38,17.81],"range":[364.3,120],"nice":false,"zero":false},"axis":null}}},
 {"data":{"name":"p2"},"mark":{"type":"line","strokeWidth":2},
  "encoding":{
   "x":{"field":"t","type":"quantitative","scale":{"domain":[1990,2005],"range":[549.3,922.7],"nice":false,"zero":false},"axis":{"orient":"bottom","offset":-1137.7,"values":[1990,1991,1992,1993,1994,1995,1996,1997,1998,1999,2000,2001,2002,2003,2004],"grid":false,"tickSize":4,"labelPadding":4,"labelOffset":12.45,"labelExpr":"datum.value >= 2004 ? '' : substring(''+datum.value,2)","labelFlush":false,"labelOverlap":false,"title":null}},
   "y":{"field":"v","type":"quantitative","scale":{"domain":[-5.38,17.81],"range":[364.3,120],"nice":false,"zero":false},"axis":{"orient":"left","offset":-549.3,"values":[-5,-2.5,0,2.5,5,7.5,10,12.5,15,17.5],"labelExpr":"replace(replace(format(datum.value,'.1f'),'.',','),'−','-')","grid":true,"tickSize":3,"labelPadding":1.3,"labelOverlap":false,"title":null}},
   "color":{"field":"s","type":"nominal","scale":{"domain":["kauppa","vaihto"],"range":["#dc1e23","#1e1ec8"]},"legend":null}}},
 {"mark":{"type":"text","text":"Kauppa- ja vaihtotase","fontSize":19,"fontWeight":"bold","align":"center","baseline":"middle"},
  "encoding":{
   "x":{"datum":1997.5,"type":"quantitative","scale":{"domain":[1990,2005],"range":[549.3,922.7],"nice":false,"zero":false},"axis":{"orient":"top","offset":-120,"values":[1990,1991,1992,1993,1994,1995,1996,1997,1998,1999,2000,2001,2002,2003,2004],"grid":true,"ticks":false,"labels":false,"title":null}},
   "y":{"datum":20.97,"type":"quantitative","scale":{"domain":[-5.38,17.81],"range":[364.3,120],"nice":false,"zero":false},"axis":{"orient":"right","offset":-37.3,"values":[-5,-2.5,0,2.5,5,7.5,10,12.5,15,17.5],"labelExpr":"replace(replace(format(datum.value,'.1f'),'.',','),'−','-')","grid":false,"tickSize":3,"labelPadding":1,"labelOverlap":false,"title":null}}}},
 {"mark":{"type":"text","text":"Liukuva vuosisumma, mrd. eur","fontSize":13,"fontWeight":"bold","align":"center","baseline":"middle"},
  "encoding":{"x":{"datum":1997.5,"type":"quantitative","axis":null},"y":{"datum":19.23,"type":"quantitative","axis":null}}},
 {"mark":{"type":"text","text":"Source: EcoWin","fontSize":9.2,"fontStyle":"italic","align":"right","baseline":"middle","color":"#222"},
  "encoding":{"x":{"datum":2005.82,"type":"quantitative","axis":null},"y":{"datum":-8.58,"type":"quantitative","axis":null}}},
 {"mark":{"type":"text","text":"Kauppatase","fontSize":10,"fontWeight":"bold","align":"center","baseline":"middle","color":"#dc1e23"},
  "encoding":{"x":{"datum":1997.63,"type":"quantitative","axis":null},"y":{"datum":12.18,"type":"quantitative","axis":null}}},
 {"mark":{"type":"text","text":"Vaihtotase","fontSize":10,"fontWeight":"bold","align":"center","baseline":"middle","color":"#1e1ec8"},
  "encoding":{"x":{"datum":1999.98,"type":"quantitative","axis":null},"y":{"datum":4.68,"type":"quantitative","axis":null}}}
]},
{"resolve":{"axis":{"x":"independent","y":"independent"}},
 "layer":[
 {"data":{"name":"p3"},"mark":{"type":"line","strokeWidth":2},
  "encoding":{
   "x":{"field":"t","type":"quantitative","scale":{"domain":[1990,2005],"range":[43.3,422],"nice":false,"zero":false},"axis":{"orient":"bottom","offset":-812,"values":[1990,1991,1992,1993,1994,1995,1996,1997,1998,1999,2000,2001,2002,2003,2004],"grid":false,"tickSize":4,"labelPadding":5,"labelOffset":12.62,"labelExpr":"datum.value >= 2004 ? '' : substring(''+datum.value,2)","labelFlush":false,"labelOverlap":false,"title":null}},
   "y":{"field":"v","type":"quantitative","scale":{"type":"log","domain":[73.4,115.9],"range":[690,445.7],"nice":false},"axis":{"orient":"left","offset":-43.3,"values":[74,77.7,81.585,85.664,89.948,94.445,99.167,104.126,109.332,114.799],"format":".0f","grid":true,"tickSize":3,"labelPadding":0,"labelOverlap":false,"title":null}},
   "color":{"field":"s","type":"nominal","scale":{"domain":["vahitt","tukku"],"range":["#dc1e23","#1e1ec8"]},"legend":null},
   "strokeDash":{"field":"s","type":"nominal","scale":{"domain":["vahitt","tukku"],"range":[[1,0],[11,4]]},"legend":null}}},
 {"mark":{"type":"text","text":"Kaupan myynti","fontSize":19,"fontWeight":"bold","align":"center","baseline":"middle"},
  "encoding":{
   "x":{"datum":1997.49,"type":"quantitative","scale":{"domain":[1990,2005],"range":[43.3,422],"nice":false,"zero":false},"axis":{"orient":"top","offset":-445.7,"values":[1990,1991,1992,1993,1994,1995,1996,1997,1998,1999,2000,2001,2002,2003,2004],"grid":true,"ticks":false,"labels":false,"title":null}},
   "y":{"datum":123.4,"type":"quantitative","scale":{"type":"log","domain":[73.4,115.9],"range":[690,445.7],"nice":false},"axis":{"orient":"right","offset":-538,"values":[74,77.7,81.585,85.664,89.948,94.445,99.167,104.126,109.332,114.799],"format":".0f","grid":false,"tickSize":3,"labelPadding":1,"labelOverlap":false,"title":null}}}},
 {"mark":{"type":"text","text":"Liukuva vuosisumma, 2000=100","fontSize":13,"fontWeight":"bold","align":"center","baseline":"middle"},
  "encoding":{"x":{"datum":1997.49,"type":"quantitative","axis":null},"y":{"datum":119.1,"type":"quantitative","axis":null}}},
 {"mark":{"type":"text","text":"Source: EcoWin","fontSize":9.2,"fontStyle":"italic","align":"right","baseline":"middle","color":"#222"},
  "encoding":{"x":{"datum":2005.62,"type":"quantitative","axis":null},"y":{"datum":68.84,"type":"quantitative","axis":null}}},
 {"mark":{"type":"text","text":"Vähittäiskauppa","fontSize":10,"fontWeight":"bold","align":"center","baseline":"middle","color":"#dc1e23"},
  "encoding":{"x":{"datum":1994.58,"type":"quantitative","axis":null},"y":{"datum":85.09,"type":"quantitative","axis":null}}},
 {"mark":{"type":"text","text":"Tukkukauppa","fontSize":10,"fontWeight":"bold","align":"center","baseline":"middle","color":"#1e1ec8"},
  "encoding":{"x":{"datum":1999.35,"type":"quantitative","axis":null},"y":{"datum":81.55,"type":"quantitative","axis":null}}}
]},
{"resolve":{"axis":{"x":"independent","y":"independent"}},
 "layer":[
 {"data":{"name":"p4"},"mark":{"type":"line","strokeWidth":2.5},
  "encoding":{
   "x":{"field":"t","type":"quantitative","scale":{"domain":[1998.93,2005],"range":[559,914],"nice":false,"zero":false},"axis":{"orient":"bottom","offset":-814.3,"values":[1999,2000,2001,2002,2003,2004],"grid":false,"tickSize":4,"labelPadding":5.7,"labelOffset":29.24,"labelExpr":"substring(''+datum.value,2)","labelFlush":false,"labelOverlap":false,"title":null}},
   "y":{"field":"v","type":"quantitative","scale":{"domain":[24.7,40.26],"range":[687.7,446.7],"nice":false,"zero":false},"axis":{"orient":"left","offset":-559,"values":[25,27.5,30,32.5,35,37.5,40],"labelExpr":"replace(format(datum.value,'.1f'),'.',',')","grid":true,"tickSize":3,"labelPadding":4,"labelOverlap":false,"title":null}},
   "color":{"field":"s","type":"nominal","scale":{"domain":["tulot","menot","vero"],"range":["#1e1ec8","#dc1e23","#000000"]},"legend":null}}},
 {"mark":{"type":"text","text":"Valtion tulot ja menot","fontSize":19,"fontWeight":"bold","align":"center","baseline":"middle"},
  "encoding":{
   "x":{"datum":2001.957,"type":"quantitative","scale":{"domain":[1998.93,2005],"range":[559,914],"nice":false,"zero":false},"axis":{"orient":"top","offset":-446.7,"values":[1999,2000,2001,2002,2003,2004],"grid":true,"ticks":false,"labels":false,"title":null}},
   "y":{"datum":42.48,"type":"quantitative","scale":{"domain":[24.7,40.26],"range":[687.7,446.7],"nice":false,"zero":false},"axis":{"orient":"right","offset":-46,"values":[25,27.5,30,32.5,35,37.5,40],"labelExpr":"replace(format(datum.value,'.1f'),'.',',')","grid":false,"tickSize":3,"labelPadding":6,"labelOverlap":false,"title":null}}}},
 {"mark":{"type":"text","text":"Ilman lainoja, lyhennyksiä ja arvopaperisijoituksia, mrd. eur","fontSize":13,"fontWeight":"bold","align":"center","baseline":"middle"},
  "encoding":{"x":{"datum":2001.957,"type":"quantitative","axis":null},"y":{"datum":41.27,"type":"quantitative","axis":null}}},
 {"mark":{"type":"text","text":"Source: EcoWin","fontSize":9.2,"fontStyle":"italic","align":"right","baseline":"middle","color":"#222"},
  "encoding":{"x":{"datum":2005.5,"type":"quantitative","axis":null},"y":{"datum":22.16,"type":"quantitative","axis":null}}},
 {"mark":{"type":"text","text":"98","fontSize":10.5,"fontWeight":"bold","align":"center","baseline":"middle"},
  "encoding":{"x":{"datum":1998.95,"type":"quantitative","axis":null},"y":{"datum":23.76,"type":"quantitative","axis":null}}},
 {"mark":{"type":"text","text":"Kassatulot","fontSize":12.5,"fontWeight":"bold","align":"center","baseline":"middle","color":"#1e1ec8"},
  "encoding":{"x":{"datum":2003.508,"type":"quantitative","axis":null},"y":{"datum":38.32,"type":"quantitative","axis":null}}},
 {"mark":{"type":"text","text":"Kassamenot","fontSize":12.5,"fontWeight":"bold","align":"center","baseline":"middle","color":"#dc1e23"},
  "encoding":{"x":{"datum":2003.809,"type":"quantitative","axis":null},"y":{"datum":35.46,"type":"quantitative","axis":null}}},
 {"mark":{"type":"text","text":"Verotulot","fontSize":12.5,"fontWeight":"bold","align":"center","baseline":"middle","color":"#000"},
  "encoding":{"x":{"datum":2003.193,"type":"quantitative","axis":null},"y":{"datum":31.8,"type":"quantitative","axis":null}}}
]},
{"resolve":{"axis":{"x":"independent","y":"independent"}},
 "layer":[
 {"data":{"name":"p5a"},"mark":{"type":"line","strokeWidth":1.2,"color":"#2323b4"},
  "encoding":{
   "x":{"field":"t","type":"quantitative","scale":{"domain":[1990,2005],"range":[38.3,427.3],"nice":false,"zero":false},"axis":{"orient":"bottom","offset":-486.3,"values":[1990,1991,1992,1993,1994,1995,1996,1997,1998,1999,2000,2001,2002,2003,2004],"grid":false,"tickSize":4,"labelPadding":5,"labelOffset":12.97,"labelExpr":"substring(''+datum.value,2)","labelFlush":false,"labelOverlap":false,"title":null}},
   "y":{"field":"v","type":"quantitative","scale":{"domain":[0,20.42],"range":[1015.7,770.7],"nice":false,"zero":false},"axis":{"orient":"left","offset":-38.3,"values":[0,2,4,6,8,10,12,14,16,18,20],"format":"d","grid":true,"tickSize":3,"labelPadding":1,"labelOverlap":false,"title":null}}}},
 {"data":{"name":"p5b"},"mark":{"type":"line","strokeWidth":2.8,"color":"#dc1e23"},
  "encoding":{
   "x":{"field":"t","type":"quantitative","axis":null},
   "y":{"field":"v","type":"quantitative","axis":null}}},
 {"mark":{"type":"text","text":"Työttömyysaste","fontSize":19,"fontWeight":"bold","align":"center","baseline":"middle"},
  "encoding":{
   "x":{"datum":1997.48,"type":"quantitative","scale":{"domain":[1990,2005],"range":[38.3,427.3],"nice":false,"zero":false},"axis":{"orient":"top","offset":-770.7,"values":[1990,1991,1992,1993,1994,1995,1996,1997,1998,1999,2000,2001,2002,2003,2004],"grid":true,"ticks":false,"labels":false,"title":null}},
   "y":{"datum":23.06,"type":"quantitative","scale":{"domain":[0,20.42],"range":[1015.7,770.7],"nice":false,"zero":false},"axis":{"orient":"right","offset":-532.7,"values":[0,2,4,6,8,10,12,14,16,18,20],"format":"d","grid":false,"tickSize":3,"labelPadding":1.3,"labelOverlap":false,"title":null}}}},
 {"mark":{"type":"text","text":"%","fontSize":13,"fontWeight":"bold","align":"center","baseline":"middle"},
  "encoding":{"x":{"datum":1997.48,"type":"quantitative","axis":null},"y":{"datum":21.53,"type":"quantitative","axis":null}}},
 {"mark":{"type":"text","text":"Source: EcoWin","fontSize":9.2,"fontStyle":"italic","align":"right","baseline":"middle","color":"#222"},
  "encoding":{"x":{"datum":2005.4,"type":"quantitative","axis":null},"y":{"datum":-2.86,"type":"quantitative","axis":null}}},
 {"mark":{"type":"text","text":"Alkuperäinen","fontSize":10,"fontWeight":"bold","align":"center","baseline":"middle","color":"#2323b4"},
  "encoding":{"x":{"datum":1998.64,"type":"quantitative","axis":null},"y":{"datum":17.14,"type":"quantitative","axis":null}}},
 {"mark":{"type":"text","text":"12 kk:n liukuva keskiarvo","fontSize":10,"fontWeight":"bold","align":"center","baseline":"middle","color":"#dc1e23"},
  "encoding":{"x":{"datum":1995.11,"type":"quantitative","axis":null},"y":{"datum":8.31,"type":"quantitative","axis":null}}}
]},
{"resolve":{"axis":{"x":"independent","y":"independent"}},
 "layer":[
 {"data":{"name":"p6"},"mark":{"type":"line","strokeWidth":2},
  "encoding":{
   "x":{"field":"t","type":"quantitative","scale":{"domain":[1990,2005],"range":[52.3,416],"nice":false,"zero":false},"axis":{"orient":"bottom","offset":-168.7,"values":[1990,1991,1992,1993,1994,1995,1996,1997,1998,1999,2000,2001,2002,2003,2004],"grid":false,"tickSize":4,"labelPadding":5,"labelOffset":12.12,"labelExpr":"datum.value >= 2004 ? '' : substring(''+datum.value,2)","labelFlush":false,"labelOverlap":false,"title":null}},
   "y":{"field":"v","type":"quantitative","scale":{"domain":[49350,85695],"range":[1333.3,1092.7],"nice":false,"zero":false},"axis":{"orient":"left","offset":-52.3,"values":[50000,55000,60000,65000,70000,75000,80000,85000],"format":"d","labelFontSize":10,"grid":true,"tickSize":3,"labelPadding":1,"labelOverlap":false,"title":null}},
   "color":{"field":"s","type":"nominal","scale":{"domain":["yks","julk","teoll"],"range":["#dc1e23","#1e1ec8","#1e1ec8"]},"legend":null},
   "strokeDash":{"field":"s","type":"nominal","scale":{"domain":["yks","julk","teoll"],"range":[[9,3],[1,0],[12,4]]},"legend":null}}},
 {"mark":{"type":"text","text":"Työlliset","fontSize":19,"fontWeight":"bold","align":"center","baseline":"middle"},
  "encoding":{
   "x":{"datum":1997.42,"type":"quantitative","scale":{"domain":[1990,2005],"range":[52.3,416],"nice":false,"zero":false},"axis":{"orient":"top","offset":-1092.7,"values":[1990,1991,1992,1993,1994,1995,1996,1997,1998,1999,2000,2001,2002,2003,2004],"grid":true,"ticks":false,"labels":false,"title":null}},
   "y":{"datum":89985,"type":"quantitative","scale":{"domain":[49350,85695],"range":[1333.3,1092.7],"nice":false,"zero":false},"axis":{"orient":"right","offset":-544,"values":[50000,55000,60000,65000,70000,75000,80000,85000],"format":"d","labelFontSize":10,"grid":false,"tickSize":3,"labelPadding":-2,"labelOverlap":false,"title":null}}}},
 {"mark":{"type":"text","text":"1000 henkeä","fontSize":10,"fontWeight":"bold","align":"left","baseline":"middle"},
  "encoding":{"x":{"datum":1990,"type":"quantitative","axis":null},"y":{"datum":87417,"type":"quantitative","axis":null}}},
 {"mark":{"type":"text","text":"Source: EcoWin","fontSize":9.2,"fontStyle":"italic","align":"right","baseline":"middle","color":"#222"},
  "encoding":{"x":{"datum":2006.13,"type":"quantitative","axis":null},"y":{"datum":44154,"type":"quantitative","axis":null}}},
 {"mark":{"type":"text","text":"Yksityiset palvelut","fontSize":10,"fontWeight":"bold","align":"center","baseline":"middle"},
  "encoding":{"x":{"datum":1995.47,"type":"quantitative","axis":null},"y":{"datum":74320,"type":"quantitative","axis":null}}},
 {"mark":{"type":"text","text":"Julkiset ja muut palvelut","fontSize":10,"fontWeight":"bold","align":"center","baseline":"middle"},
  "encoding":{"x":{"datum":1994.58,"type":"quantitative","axis":null},"y":{"datum":67930,"type":"quantitative","axis":null}}},
 {"mark":{"type":"text","text":"Teollisuus ja rakentaminen","fontSize":10,"fontWeight":"bold","align":"center","baseline":"middle"},
  "encoding":{"x":{"datum":1995.79,"type":"quantitative","axis":null},"y":{"datum":60680,"type":"quantitative","axis":null}}}
]},
{"layer":[
 {"mark":{"type":"rect","fillOpacity":0,"stroke":"#5a5a5a","strokeWidth":1.6},
  "encoding":{"x":{"datum":-2.95,"type":"quantitative","scale":{"domain":[-2.95,4.1],"range":[530,949.3],"nice":false,"zero":false},"axis":null},"x2":{"datum":4.1},"y":{"datum":-1.415,"type":"quantitative","scale":{"domain":[-1.415,28.285],"range":[761,1355],"nice":false,"zero":false},"axis":null},"y2":{"datum":28.285}}},
 {"data":{"name":"tbl"},"transform":[{"filter":"datum.role == 'title'"}],"mark":{"type":"text","fontSize":19,"align":"left","baseline":"middle"},
  "encoding":{"x":{"datum":-2.71,"type":"quantitative","axis":null},"y":{"field":"line","type":"quantitative","axis":null},"text":{"field":"text"}}},
 {"data":{"name":"tbl"},"transform":[{"filter":"datum.role == 'head'"}],"mark":{"type":"text","fontSize":17,"fontWeight":"bold","align":"left","baseline":"middle"},
  "encoding":{"x":{"datum":-2.71,"type":"quantitative","axis":null},"y":{"field":"line","type":"quantitative","axis":null},"text":{"field":"text"}}},
 {"data":{"name":"tbl"},"transform":[{"filter":"datum.role == 'label'"}],"mark":{"type":"text","fontSize":17,"align":"left","baseline":"middle"},
  "encoding":{"x":{"datum":-2.71,"type":"quantitative","axis":null},"y":{"field":"line","type":"quantitative","axis":null},"text":{"field":"text"}}},
 {"data":{"name":"tbl"},"transform":[{"filter":"datum.role == 'year' && datum.c <= 2"}],"mark":{"type":"text","fontSize":17,"fontWeight":"bold","align":"right","baseline":"middle"},
  "encoding":{"x":{"field":"c","type":"quantitative","axis":null},"y":{"field":"line","type":"quantitative","axis":null},"text":{"field":"text"}}},
 {"data":{"name":"tbl"},"transform":[{"filter":"datum.role == 'year' && datum.c >= 3"}],"mark":{"type":"text","font":"Liberation Serif","fontSize":18.5,"fontWeight":"bold","align":"right","baseline":"middle"},
  "encoding":{"x":{"field":"c","type":"quantitative","axis":null},"y":{"field":"line","type":"quantitative","axis":null},"text":{"field":"text"}}},
 {"data":{"name":"tbl"},"transform":[{"filter":"datum.role == 'value' && datum.c <= 2"}],"mark":{"type":"text","fontSize":17,"align":"right","baseline":"middle"},
  "encoding":{"x":{"field":"c","type":"quantitative","axis":null},"y":{"field":"line","type":"quantitative","axis":null},"text":{"field":"text"}}},
 {"data":{"name":"tbl"},"transform":[{"filter":"datum.role == 'value' && datum.c >= 3"}],"mark":{"type":"text","font":"Liberation Serif","fontSize":18.5,"align":"right","baseline":"middle"},
  "encoding":{"x":{"field":"c","type":"quantitative","axis":null},"y":{"field":"line","type":"quantitative","axis":null},"text":{"field":"text"}}}
]}
]
}
